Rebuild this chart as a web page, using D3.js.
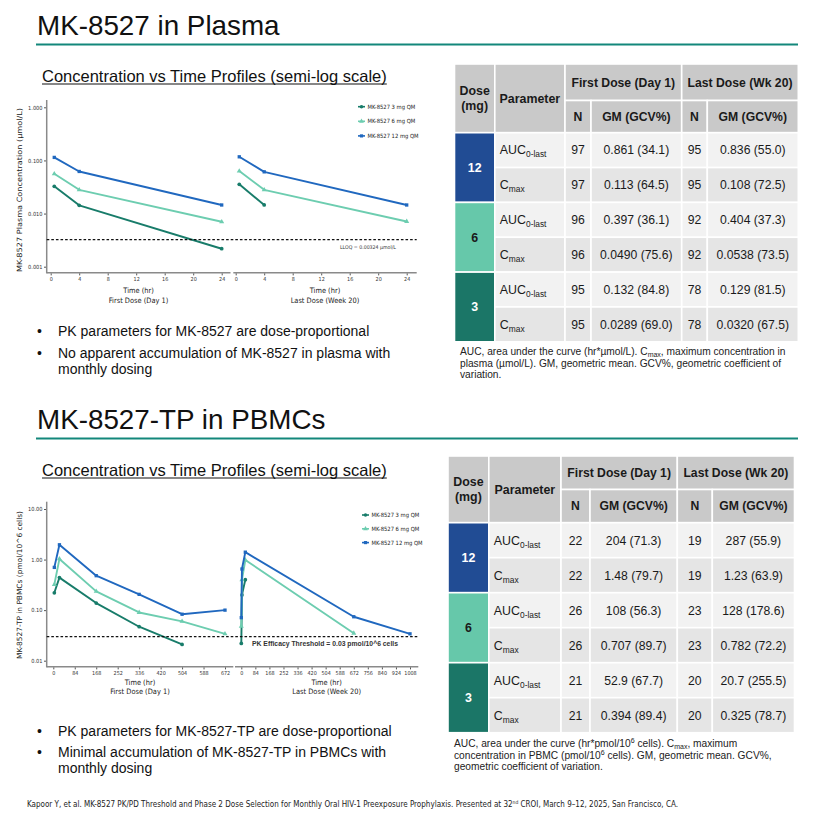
<!DOCTYPE html>
<html>
<head>
<meta charset="utf-8">
<script src="https://cdn.jsdelivr.net/npm/d3@7"></script>
<style>
  body { margin: 0; background: #fff; }
  svg { display: block; font-family: "Liberation Sans", Arial, sans-serif; }
  .narrow { font-family: "Liberation Sans Narrow", "DejaVu Sans Condensed", "Liberation Sans", sans-serif; }
</style>
</head>
<body>
<svg id="slide" width="821" height="822"></svg>
<script>
// ---- data ----
const doseLabels = ["MK-8527 3 mg QM", "MK-8527 6 mg QM", "MK-8527 12 mg QM"];

// plasma, umol/L
const plasmaHours = [0.5, 4, 24];
const plasmaDay1_3mg = [0.0326, 0.0143, 0.00218];
const plasmaDay1_6mg = [0.056, 0.028, 0.0070];
const plasmaDay1_12mg = [0.114, 0.062, 0.0145];
const plasmaWk20_3mg = [0.0355, 0.0145];
const plasmaWk20_6mg = [0.063, 0.028, 0.0071];
const plasmaWk20_12mg = [0.117, 0.061, 0.0145];
const plasmaYTicks = [0.001, 0.01, 0.1, 1];
const plasmaXTicks = [0, 4, 8, 12, 16, 20, 24];
const lloq = 0.00324;

// PBMC, pmol/10^6 cells
const pbmcDay1Hours = [4, 24, 168, 336, 504, 672];
const pbmcDay1_3mg = [0.22, 0.44, 0.138, 0.047, 0.021];
const pbmcDay1_6mg = [0.32, 1.03, 0.235, 0.09, 0.06, 0.034];
const pbmcDay1_12mg = [0.70, 1.96, 0.48, 0.205, 0.083, 0.10];
const pbmcWk20Hours = [0, 4, 24, 672, 1008];
const pbmcWk20_3mg = [0.022, 0.20, 0.40];
const pbmcWk20_6mg = [0.048, 0.40, 0.98, 0.035];
const pbmcWk20_12mg = [0.071, 0.65, 1.40, 0.074, 0.034];
const pbmcYTicks = [0.01, 0.1, 1, 10];
const pbmcXTicksDay1 = [0, 84, 168, 252, 336, 420, 504, 588, 672];
const pbmcXTicksWk20 = [0, 84, 168, 252, 336, 420, 504, 588, 672, 756, 840, 924, 1008];
const efficacyThreshold = 0.03;

// tables
const tableDoses = ["12", "6", "3"];
const tableParams = ["AUC", "C"];
const tableParamSubs = ["0-last", "max"];
const plasmaN_day1 = [97, 97, 96, 96, 95, 95];
const plasmaGM_day1 = ["0.861 (34.1)", "0.113 (64.5)", "0.397 (36.1)", "0.0490 (75.6)", "0.132 (84.8)", "0.0289 (69.0)"];
const plasmaN_wk20 = [95, 95, 92, 92, 78, 78];
const plasmaGM_wk20 = ["0.836 (55.0)", "0.108 (72.5)", "0.404 (37.3)", "0.0538 (73.5)", "0.129 (81.5)", "0.0320 (67.5)"];
const pbmcN_day1 = [22, 22, 26, 26, 21, 21];
const pbmcGM_day1 = ["204 (71.3)", "1.48 (79.7)", "108 (56.3)", "0.707 (89.7)", "52.9 (67.7)", "0.394 (89.4)"];
const pbmcN_wk20 = [19, 19, 23, 23, 20, 20];
const pbmcGM_wk20 = ["287 (55.9)", "1.23 (63.9)", "128 (178.6)", "0.782 (72.2)", "20.7 (255.5)", "0.325 (78.7)"];

// ---- styles ----
const teal = "#13877b";
const color = d3.scaleOrdinal().domain(doseLabels).range(["#187c6a", "#6dcdb0", "#2068bf"]);
const shape = d3.scaleOrdinal().domain(doseLabels).range([d3.symbolCircle, d3.symbolTriangle, d3.symbolSquare]);
const doseFill = d3.scaleOrdinal().domain(tableDoses).range(["#214c94", "#66c8aa", "#1b7667"]);
const doseText = d3.scaleOrdinal().domain(tableDoses).range(["#fff", "#1a1a1a", "#fff"]);

const svg = d3.select("#slide");

function series(hours, vals, dose) {
  return { dose: dose, pts: vals.map((v, i) => ({ t: hours[i], v: v })) };
}

// ---- slide headings ----
function heading(text, base, lineY) {
  svg.append("text").attr("x", 37).attr("y", base).attr("font-size", 27.8).attr("fill", "#111").text(text);
  svg.append("line").attr("x1", 36).attr("x2", 798).attr("y1", lineY).attr("y2", lineY)
    .attr("stroke", teal).attr("stroke-width", 2.2);
}
function subheading(base) {
  const t = svg.append("text").attr("x", 42).attr("y", base).attr("font-size", 16.5).attr("fill", "#111")
    .text("Concentration vs Time Profiles (semi-log scale)");
  const w = t.node().getComputedTextLength();
  svg.append("line").attr("x1", 42).attr("x2", 42 + w).attr("y1", base + 2.5).attr("y2", base + 2.5)
    .attr("stroke", "#111").attr("stroke-width", 1.1);
}
function bullets(lines, ys) {
  lines.forEach((l, i) => {
    if (l.bullet) svg.append("text").attr("x", 37).attr("y", ys[i]).attr("font-size", 14).attr("fill", "#111").text("\u2022");
    svg.append("text").attr("x", 58).attr("y", ys[i]).attr("font-size", 14).attr("fill", "#111").text(l.text);
  });
}

heading("MK-8527 in Plasma", 35, 44.5);
subheading(81.5);
heading("MK-8527-TP in PBMCs", 429, 438.5);
subheading(475.5);

bullets([
  { bullet: true, text: "PK parameters for MK-8527 are dose-proportional" },
  { bullet: true, text: "No apparent accumulation of MK-8527 in plasma with" },
  { bullet: false, text: "monthly dosing" }
], [336, 358, 374]);
bullets([
  { bullet: true, text: "PK parameters for MK-8527-TP are dose-proportional" },
  { bullet: true, text: "Minimal accumulation of MK-8527-TP in PBMCs with" },
  { bullet: false, text: "monthly dosing" }
], [736, 757, 773]);

// ---- charts ----
function drawChart(cfg) {
  const g = svg.append("g");
  const y = d3.scaleLog().domain([cfg.yTicks[0], cfg.yTicks[cfg.yTicks.length - 1]]).range(cfg.yRange);

  g.append("line").attr("x1", cfg.left).attr("x2", cfg.left).attr("y1", cfg.top).attr("y2", cfg.bottom + 0.7)
    .attr("stroke", "#8a8a8a").attr("stroke-width", 1.5);
  const ya = g.append("g").attr("transform", `translate(${cfg.left - 0.7},0)`)
    .call(d3.axisLeft(y).tickValues(cfg.yTicks).tickFormat(d3.format(cfg.yFormat)).tickSize(2).tickPadding(1.5));
  ya.select(".domain").remove();
  ya.selectAll("line").attr("stroke", "#555");
  ya.selectAll("text").attr("class", "narrow").attr("font-size", 5.6).attr("fill", "#333");

  g.append("text").attr("class", "narrow")
    .attr("transform", `translate(${cfg.yTitleX},${cfg.yTitleMid}) rotate(-90)`)
    .attr("text-anchor", "middle").attr("font-size", 7.2).attr("fill", "#222")
    .attr("textLength", cfg.yTitleLen).attr("lengthAdjust", "spacingAndGlyphs")
    .text(cfg.yTitle);

  const line = d3.line();
  cfg.panels.forEach(p => {
    const x = d3.scaleLinear().domain([0, p.ticks[p.ticks.length - 1]]).range(p.range);
    g.append("line").attr("x1", p.extent[0]).attr("x2", p.extent[1]).attr("y1", cfg.bottom).attr("y2", cfg.bottom)
      .attr("stroke", "#8a8a8a").attr("stroke-width", 1.5);
    const xa = g.append("g").attr("transform", `translate(0,${cfg.bottom + 0.7})`)
      .call(d3.axisBottom(x).tickValues(p.ticks).tickFormat(d3.format("d")).tickSize(2).tickPadding(2));
    xa.select(".domain").remove();
    xa.selectAll("line").attr("stroke", "#555");
    xa.selectAll("text").attr("class", "narrow").attr("font-size", 5.4).attr("fill", "#333");

    const cx = (p.extent[0] + p.extent[1]) / 2;
    g.append("text").attr("class", "narrow").attr("x", cx).attr("y", cfg.bottom + cfg.titleGap)
      .attr("text-anchor", "middle").attr("font-size", 7.4).attr("fill", "#222").text("Time (hr)");
    g.append("text").attr("class", "narrow").attr("x", cx).attr("y", cfg.bottom + cfg.titleGap + 9.5)
      .attr("text-anchor", "middle").attr("font-size", 7.4).attr("fill", "#222").text(p.title);

    p.series.forEach(s => {
      g.append("path").attr("d", line(s.pts.map(d => [x(d.t), y(d.v)])))
        .attr("fill", "none").attr("stroke", color(s.dose)).attr("stroke-width", 1.9)
        .attr("stroke-linejoin", "round");
      g.selectAll(null).data(s.pts).enter().append("path")
        .attr("d", d3.symbol().type(shape(s.dose)).size(11))
        .attr("transform", d => `translate(${x(d.t)},${y(d.v)})`)
        .attr("fill", color(s.dose));
    });
  });

  const last = cfg.panels[cfg.panels.length - 1];
  g.append("line").attr("x1", cfg.left).attr("x2", last.extent[1])
    .attr("y1", y(cfg.threshold)).attr("y2", y(cfg.threshold))
    .attr("stroke", "#111").attr("stroke-width", 1.2).attr("stroke-dasharray", "2.6,2");
  const tl = g.append("text").attr("x", cfg.threshLabel.x).attr("y", y(cfg.threshold) + cfg.threshLabel.dy)
    .attr("font-size", cfg.threshLabel.size).attr("fill", "#333").text(cfg.threshLabel.text);
  if (cfg.threshLabel.bold) tl.attr("font-weight", "bold").attr("textLength", cfg.threshLabel.len).attr("lengthAdjust", "spacingAndGlyphs");
  else tl.attr("class", "narrow");

  const lg = g.append("g").attr("transform", `translate(${cfg.legend[0]},${cfg.legend[1]})`);
  doseLabels.forEach((d, i) => {
    const row = lg.append("g").attr("transform", `translate(0,${i * cfg.legend[2]})`);
    row.append("line").attr("x1", 0).attr("x2", 7).attr("stroke", color(d)).attr("stroke-width", 1.6);
    row.append("path").attr("d", d3.symbol().type(shape(d)).size(10)).attr("transform", "translate(3.5,0)").attr("fill", color(d));
    row.append("text").attr("class", "narrow").attr("x", 9.5).attr("y", 2).attr("font-size", 5.8).attr("fill", "#222").text(d);
  });
}

drawChart({
  left: 46.7, top: 100, bottom: 272.7, yRange: [266.7, 107.3], yTicks: plasmaYTicks, yFormat: ".3f",
  yTitle: "MK-8527 Plasma Concentration (\u00b5mol/L)", yTitleX: 21.5, yTitleMid: 190, yTitleLen: 164,
  titleGap: 20.5, threshold: lloq,
  threshLabel: { text: "LLOQ = 0.00324 \u00b5mol/L", x: 340, dy: 9, size: 5.2, bold: false },
  legend: [358, 106.7, 14.6],
  panels: [
    { range: [50.7, 221.7], extent: [46.7, 230.5], ticks: plasmaXTicks, title: "First Dose (Day 1)",
      series: [series(plasmaHours, plasmaDay1_3mg, doseLabels[0]), series(plasmaHours, plasmaDay1_6mg, doseLabels[1]), series(plasmaHours, plasmaDay1_12mg, doseLabels[2])] },
    { range: [235.7, 406.7], extent: [233.3, 416.7], ticks: plasmaXTicks, title: "Last Dose (Week 20)",
      series: [series(plasmaHours, plasmaWk20_3mg, doseLabels[0]), series(plasmaHours, plasmaWk20_6mg, doseLabels[1]), series(plasmaHours, plasmaWk20_12mg, doseLabels[2])] }
  ]
});

drawChart({
  left: 46.7, top: 501.7, bottom: 666.7, yRange: [660.7, 509], yTicks: pbmcYTicks, yFormat: ".2f",
  yTitle: "MK-8527-TP in PBMCs (pmol/10^6 cells)", yTitleX: 21.5, yTitleMid: 585, yTitleLen: 148,
  titleGap: 18, threshold: efficacyThreshold,
  threshLabel: { text: "PK Efficacy Threshold = 0.03 pmol/10^6 cells", x: 252, dy: 9.5, size: 7.2, bold: true, len: 146 },
  legend: [362, 515, 13.8],
  panels: [
    { range: [53.3, 225], extent: [46.7, 233.3], ticks: pbmcXTicksDay1, title: "First Dose (Day 1)",
      series: [series(pbmcDay1Hours, pbmcDay1_3mg, doseLabels[0]), series(pbmcDay1Hours, pbmcDay1_6mg, doseLabels[1]), series(pbmcDay1Hours, pbmcDay1_12mg, doseLabels[2])] },
    { range: [241.3, 410], extent: [235, 418.3], ticks: pbmcXTicksWk20, title: "Last Dose (Week 20)",
      series: [series(pbmcWk20Hours, pbmcWk20_3mg, doseLabels[0]), series(pbmcWk20Hours, pbmcWk20_6mg, doseLabels[1]), series(pbmcWk20Hours, pbmcWk20_12mg, doseLabels[2])] }
  ]
});

// ---- tables ----
function drawTable(cfg, n1, gm1, n20, gm20) {
  const g = svg.append("g");
  const c = cfg.cols, r = cfg.rows;
  const cell = (x0, x1, y0, y1, fill) => g.append("rect").attr("x", x0).attr("y", y0)
    .attr("width", x1 - x0).attr("height", y1 - y0).attr("fill", fill).attr("stroke", "#fff").attr("stroke-width", 1.6);
  const txt = (x, y, s, opt = {}) => g.append("text").attr("x", x).attr("y", y)
    .attr("text-anchor", opt.anchor || "middle").attr("font-size", opt.size || 12.2)
    .attr("font-weight", opt.bold ? "bold" : null).attr("fill", opt.fill || "#1a1a1a").text(s);
  const mid = (a, b) => (a + b) / 2;
  const hdr = "#c9c9c9";

  cell(c[0], c[1], r[0], r[2], hdr);
  cell(c[1], c[2], r[0], r[2], hdr);
  cell(c[2], c[4], r[0], r[1], hdr);
  cell(c[4], c[6], r[0], r[1], hdr);
  for (let k = 2; k < 6; k++) cell(c[k], c[k + 1], r[1], r[2], hdr);

  txt(mid(c[0], c[1]), mid(r[0], r[2]) - 3, "Dose", { bold: true, size: 12.4 });
  txt(mid(c[0], c[1]), mid(r[0], r[2]) + 12, "(mg)", { bold: true, size: 12.4 });
  txt(mid(c[1], c[2]), mid(r[0], r[2]) + 4.3, "Parameter", { bold: true, size: 12.4 });
  txt(mid(c[2], c[4]), mid(r[0], r[1]) + 4.3, "First Dose (Day 1)", { bold: true, size: 12.2 });
  txt(mid(c[4], c[6]), mid(r[0], r[1]) + 4.3, "Last Dose (Wk 20)", { bold: true, size: 12.2 });
  ["N", "GM (GCV%)", "N", "GM (GCV%)"].forEach((s, k) =>
    txt(mid(c[k + 2], c[k + 3]), mid(r[1], r[2]) + 4.3, s, { bold: true, size: 12.2 }));

  tableDoses.forEach((d, i) => {
    const y0 = r[2 + i * 2], y2 = r[4 + i * 2];
    cell(c[0], c[1], y0, y2, doseFill(d));
    txt(mid(c[0], c[1]), mid(y0, y2) + 4.3, d, { bold: true, fill: doseText(d), size: 12.4 });
  });
  n1.forEach((n, j) => {
    const y0 = r[2 + j], y1 = r[3 + j], bg = j % 2 === 0 ? "#f2f2f2" : "#e5e5e5";
    for (let k = 1; k < 6; k++) cell(c[k], c[k + 1], y0, y1, bg);
    const ym = mid(y0, y1) + 4.3;
    const p = txt(c[1] + 5, ym, tableParams[j % 2], { anchor: "start", size: 12.4 });
    p.append("tspan").attr("font-size", 8.4).attr("dy", 3).text(tableParamSubs[j % 2]);
    txt(mid(c[2], c[3]), ym, n);
    txt(mid(c[3], c[4]), ym, gm1[j]);
    txt(mid(c[4], c[5]), ym, n20[j]);
    txt(mid(c[5], c[6]), ym, gm20[j]);
  });

  cfg.notes.forEach((parts, i) => {
    const t = g.append("text").attr("x", cfg.noteX).attr("y", cfg.noteY + i * 11.6)
      .attr("font-size", 10.2).attr("fill", "#222");
    parts.forEach(pt => {
      const sp = t.append("tspan").text(pt.s);
      if (pt.sub) sp.attr("font-size", 7).attr("dy", 2);
      if (pt.sup) sp.attr("font-size", 7).attr("dy", -4);
      if (pt.back) sp.attr("dy", pt.back);
    });
  });
}

const rowsFrom = (top, h1, h2, rh) => [top, h1, h2].concat(d3.range(1, 7).map(i => h2 + i * rh));

drawTable({
  cols: [454.5, 494.8, 565, 591, 681.7, 707.3, 798.3],
  rows: rowsFrom(64, 100.5, 132.7, 34.85),
  noteX: 460, noteY: 355,
  notes: [
    [{ s: "AUC, area under the curve (hr*\u00b5mol/L). C" }, { s: "max", sub: true }, { s: ", maximum concentration in", back: -2 }],
    [{ s: "plasma (\u00b5mol/L). GM, geometric mean. GCV%, geometric coefficient of" }],
    [{ s: "variation." }]
  ]
}, plasmaN_day1, plasmaGM_day1, plasmaN_wk20, plasmaGM_wk20);

drawTable({
  cols: [448, 488.8, 561, 590, 677.3, 712.3, 794.5],
  rows: rowsFrom(456, 489.5, 522.7, 35),
  noteX: 454, noteY: 747,
  notes: [
    [{ s: "AUC, area under the curve (hr*pmol/10" }, { s: "6", sup: true }, { s: " cells). C", back: 4 }, { s: "max", sub: true }, { s: ", maximum", back: -2 }],
    [{ s: "concentration in PBMC (pmol/10" }, { s: "6", sup: true }, { s: " cells). GM, geometric mean. GCV%,", back: 4 }],
    [{ s: "geometric coefficient of variation." }]
  ]
}, pbmcN_day1, pbmcGM_day1, pbmcN_wk20, pbmcGM_wk20);

// ---- footer ----
const foot = svg.append("text").attr("class", "narrow").attr("x", 27).attr("y", 806.5)
  .attr("font-size", 8).attr("fill", "#222");
foot.append("tspan").text("Kapoor Y, et al. MK-8527 PK/PD Threshold and Phase 2 Dose Selection for Monthly Oral HIV-1 Preexposure Prophylaxis. Presented at 32");
foot.append("tspan").attr("font-size", 5).attr("dy", -3).text("nd");
foot.append("tspan").attr("dy", 3).text(" CROI, March 9\u201312, 2025, San Francisco, CA.");
</script>
</body>
</html>
